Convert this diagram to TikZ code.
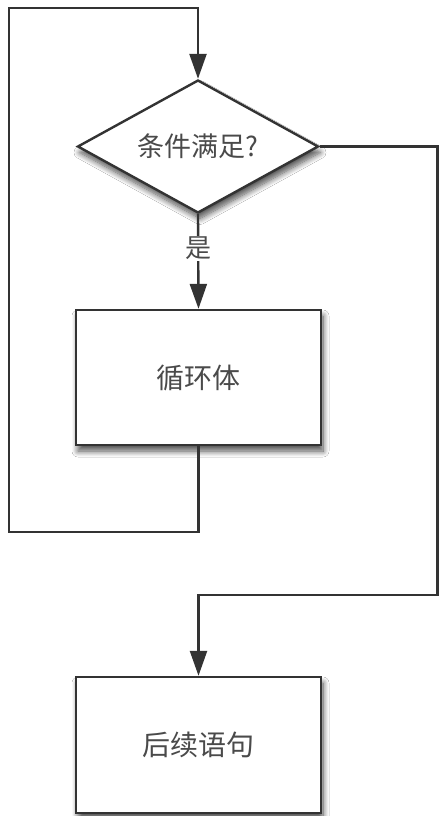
\documentclass[tikz,border=0pt]{standalone}
\usepackage{fontspec}
\newfontfamily\cjk{Noto Sans CJK SC}
\usetikzlibrary{shapes.geometric,arrows.meta,shadows.blur}
\definecolor{linec}{HTML}{333333}
\definecolor{textc}{HTML}{4A4A4A}
\begin{document}
\begin{tikzpicture}[x=1pt,y=-1pt,
  softshadow/.style={blur shadow={shadow xshift=2pt, shadow yshift=-6pt, shadow blur radius=6pt, shadow blur steps=10, shadow opacity=70}},
  shape box/.style={draw=linec, line width=2.4pt, fill=white, rectangle,
    minimum width=245pt, minimum height=135pt, inner sep=0pt,
    font=\cjk\fontsize{28}{32}\selectfont, text=textc, softshadow},
  decision/.style={draw=linec, line width=2.4pt, fill=white, diamond, aspect=1.8,
    minimum width=241pt, minimum height=133pt, inner sep=0pt,
    font=\cjk\fontsize{27}{30}\selectfont, text=textc, softshadow},
  conn/.style={draw=linec, line width=2.4pt},
  arr/.style={conn, -{Triangle[length=25pt,width=17pt]}},
  lbl/.style={font=\cjk\fontsize{26}{28}\selectfont, text=textc, fill=white, inner sep=1pt}
]
\useasboundingbox (0,0) rectangle (441,816);
\fill[white] (0,0) rectangle (441,816);

\node[decision] (cond) at (198,146.5) {条件满足?};
\node[shape box] (body) at (198.5,377.5) {循环体};
\node[shape box, minimum height=136pt] (next) at (198.5,745) {后续语句};

\coordinate (b1) at (198.5,532);
\coordinate (b2) at (9,532);
\coordinate (b3) at (9,8);
\coordinate (b4) at (198,8);

\coordinate (r1) at (437.5,146.5);
\coordinate (r2) at (437.5,595);
\coordinate (r3) at (198.5,595);

\draw[arr] (cond.south) -- node[lbl, pos=0.36] {是} (body.north);
\draw[arr, line join=miter] (body.south) -- (b1) -- (b2) -- (b3) -- (b4) -- (cond.north);
\draw[arr, line join=miter] (cond.east) -- (r1) -- (r2) -- (r3) -- (next.north);
\end{tikzpicture}
\end{document}
